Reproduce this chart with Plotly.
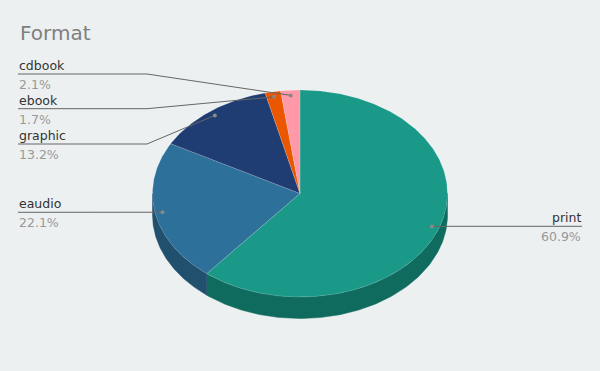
import numpy as np
import plotly.graph_objects as go

# ---- data ----
categories = ["print", "eaudio", "graphic", "ebook", "cdbook"]
percentages = [60.9, 22.1, 13.2, 1.7, 2.1]

# ---- style / layout ----
top_colors = ["#1a9988", "#2d709a", "#1f3d73", "#eb5600", "#ff99a8"]
side_colors = ["#106b5f", "#21506e", "#172e57", "#a83e00", "#c9707d"]
label_line_y = [226.3, 212.3, 144, 108.7, 74]   # label underline rows
BG = "#ecf0f1"
CX, CY = 300.0, 193.5     # pie centre (pixel space)
RX, RY = 147.5, 103.5     # ellipse radii
DEPTH = 21.5
ANCHOR_R = 0.95
LINE_LEFT, LINE_RIGHT = 18, 582
TEXT_LEFT, TEXT_RIGHT = 17, 583
BEND_LEFT, BEND_RIGHT = 147, 453

vals = np.array(percentages, dtype=float)
cum = np.concatenate([[0], np.cumsum(vals)]) / vals.sum() * 360.0


def ell(theta_deg, r=1.0, dy=0.0):
    t = np.radians(theta_deg)
    return CX + r * RX * np.sin(t), CY - r * RY * np.cos(t) + dy


fig = go.Figure()

# side walls (front-facing part: 90..270 deg)
for i in range(len(vals)):
    a, b = cum[i], cum[i + 1]
    lo, hi = max(a, 90.0), min(b, 270.0)
    if hi <= lo:
        continue
    th = np.linspace(lo, hi, 120)
    xt, yt = ell(th)
    xb, yb = ell(th[::-1], dy=DEPTH)
    fig.add_trace(go.Scatter(
        x=np.concatenate([xt, xb, xt[:1]]), y=np.concatenate([yt, yb, yt[:1]]),
        mode="lines", fill="toself", fillcolor=side_colors[i],
        line=dict(color=side_colors[i], width=0.5), hoverinfo="skip", showlegend=False))

# top faces
for i in range(len(vals)):
    a, b = cum[i], cum[i + 1]
    th = np.linspace(a, b, max(8, int((b - a) * 2)))
    xe, ye = ell(th)
    fig.add_trace(go.Scatter(
        x=np.concatenate([[CX], xe, [CX]]), y=np.concatenate([[CY], ye, [CY]]),
        mode="lines", fill="toself", fillcolor=top_colors[i],
        line=dict(color="rgba(255,255,255,0.25)", width=0.6),
        name=categories[i], hoverinfo="name", showlegend=False))

# labels and connectors
for i, (cat, p) in enumerate(zip(categories, percentages)):
    mid = (cum[i] + cum[i + 1]) / 2
    ax, ay = ell(mid, r=ANCHOR_R)
    ly = label_line_y[i]
    right = np.sin(np.radians(mid)) > 0
    if right:
        xs = [ax, max(ax, BEND_RIGHT), LINE_RIGHT]
        tx, anchor = TEXT_RIGHT, "right"
    else:
        xs = [ax, min(ax, BEND_LEFT), LINE_LEFT]
        tx, anchor = TEXT_LEFT, "left"
    fig.add_trace(go.Scatter(x=xs, y=[ay, ly, ly], mode="lines",
                             line=dict(color="#666666", width=1),
                             hoverinfo="skip", showlegend=False))
    fig.add_trace(go.Scatter(x=[ax], y=[ay], mode="markers",
                             marker=dict(color="#888888", size=4),
                             hoverinfo="skip", showlegend=False))
    fig.add_annotation(x=tx, y=ly - 8.5, text=cat, showarrow=False,
                       xanchor=anchor, yanchor="middle",
                       font=dict(family="DejaVu Sans", size=12.5, color="#333333"))
    fig.add_annotation(x=tx, y=ly + 10.5, text=f"{p:.1f}%", showarrow=False,
                       xanchor=anchor, yanchor="middle",
                       font=dict(family="DejaVu Sans", size=12.5, color="#999999"))

fig.add_annotation(x=17.5, y=32.5, text="Format", showarrow=False,
                   xanchor="left", yanchor="middle",
                   font=dict(family="DejaVu Sans", size=20, color="#7f7f7f"))

fig.update_layout(
    width=600, height=371, autosize=False,
    margin=dict(l=0, r=0, t=0, b=0),
    paper_bgcolor=BG, plot_bgcolor=BG,
    xaxis=dict(range=[0, 600], visible=False, fixedrange=True),
    yaxis=dict(range=[371, 0], visible=False, fixedrange=True),
    showlegend=False,
)

fig.write_html("out.html")
